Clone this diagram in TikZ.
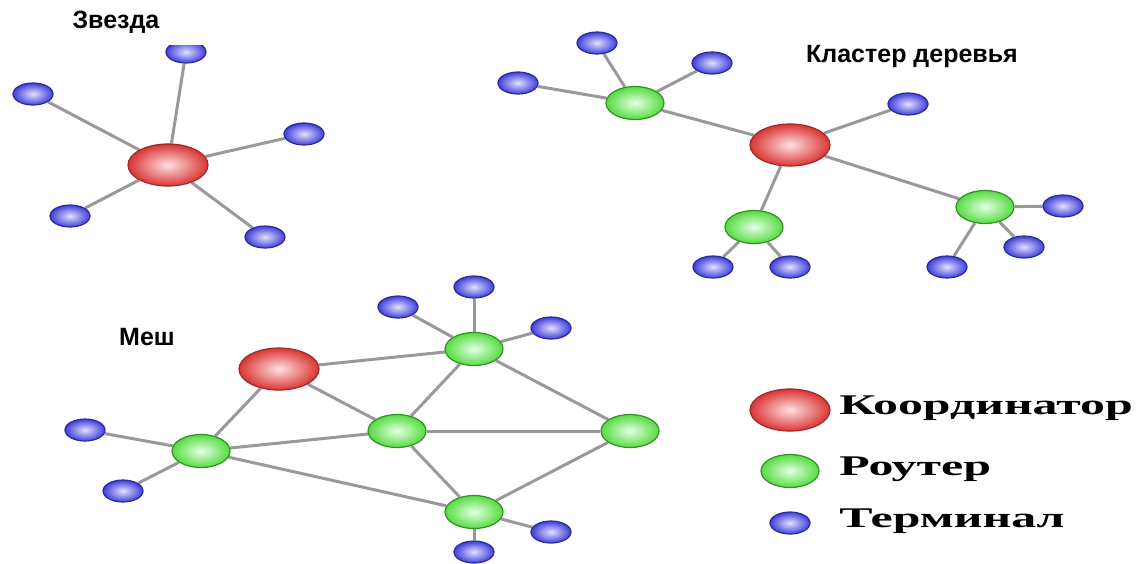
\documentclass[tikz,border=0pt]{standalone}
\usepackage{fontspec}
\usetikzlibrary{shapes.geometric,backgrounds}
\newfontfamily\labelfont{Liberation Sans}
\newfontfamily\legendfont{Liberation Serif}

\definecolor{redball}{HTML}{D93535}
\definecolor{greenball}{HTML}{55DC40}
\definecolor{blueball}{HTML}{3F3FDA}

\begin{document}
\begin{tikzpicture}[x=1pt,y=-1pt,
		link/.style = {draw=gray!80, line width=3pt}]
	\tikzset{ball/.style={ellipse, inner sep=0pt, line width=1.2pt},
		coord/.style={ball, minimum width=80pt, minimum height=42pt, draw=redball!75!black, inner color=red!12!white, outer color=redball},
		router/.style={ball, minimum width=58pt, minimum height=33pt, draw=greenball!65!black, inner color=green!10!white, outer color=greenball},
		term/.style={ball, minimum width=40pt, minimum height=22pt, draw=blueball!70!black, inner color=blue!12!white, outer color=blueball},
		title/.style={font=\labelfont\bfseries\fontsize{25}{30}\selectfont},
		legend/.style={anchor=west, inner sep=0pt, xscale=1.75, font=\legendfont\bfseries\fontsize{28.5}{32}\selectfont}}

	\useasboundingbox (0,0) rectangle (1142,563);

	% star
	\node[title] (startitle) at (116,22) {Звезда};
	\begin{scope}
		\clip (0,45) rectangle (440,290);
		\node[coord] (s) at (168,165) {};
		\node[term] (s1) at (186,52) {};
		\node[term] (s2) at (33,94) {};
		\node[term] (s3) at (304,134) {};
		\node[term] (s4) at (70,216) {};
		\node[term] (s5) at (265,237) {};
		\begin{scope}[on background layer]
			\foreach \t in {1,...,5}
				\draw[link] (s) -- (s\t);
		\end{scope}
	\end{scope}

	% cluster tree
	\node[title] (treetitle) at (912,56) {Кластер деревья};
	\node[coord] (c) at (790,145) {};
	\node[router] (r1) at (635,103) {};
	\node[router] (r2) at (754,227) {};
	\node[router] (r3) at (985,207) {};
	\node[term] (c0) at (908,104) {};
	\node[term] (r1a) at (597,43) {};
	\node[term] (r1b) at (518,83) {};
	\node[term] (r1c) at (712,63) {};
	\node[term] (r2a) at (713,267) {};
	\node[term] (r2b) at (790,267) {};
	\node[term] (r3a) at (1063,206) {};
	\node[term] (r3b) at (1024,247) {};
	\node[term] (r3c) at (947,267) {};
	\begin{scope}[on background layer]
		\foreach \n in {r1,r2,r3,c0}
			\draw[link] (c) -- (\n);
		\foreach \t in {r1a,r1b,r1c}
			\draw[link] (r1) -- (\t);
		\foreach \t in {r2a,r2b}
			\draw[link] (r2) -- (\t);
		\foreach \t in {r3a,r3b,r3c}
			\draw[link] (r3) -- (\t);
	\end{scope}

	% mesh
	\node[title] (meshtitle) at (147,337) {Меш};
	\node[coord] (m) at (279,369) {};
	\node[router] (ma) at (201,451) {};
	\node[router] (mb) at (397,431) {};
	\node[router] (mc) at (474,349) {};
	\node[router] (md) at (630,431) {};
	\node[router] (me) at (474,512) {};
	\node[term] (ma1) at (85,430) {};
	\node[term] (ma2) at (123,491) {};
	\node[term] (mc1) at (398,307) {};
	\node[term] (mc2) at (474,287) {};
	\node[term] (mc3) at (551,328) {};
	\node[term] (me1) at (551,532) {};
	\node[term] (me2) at (474,552) {};
	\begin{scope}[on background layer]
		\foreach \a/\b in {m/ma,m/mc,m/mb,ma/mb,ma/me,mb/mc,mb/md,mb/me,mc/md,me/md,
				ma/ma1,ma/ma2,mc/mc1,mc/mc2,mc/mc3,me/me1,me/me2}
			\draw[link] (\a) -- (\b);
	\end{scope}

	% legend
	\node[coord] (keycoord) at (790,410) {};
	\node[router] (keyrouter) at (790,471) {};
	\node[term] (keyterm) at (790,523) {};
	\node[legend] (keycoordtext) at (839,408) {Координатор};
	\node[legend] (keyroutertext) at (839,469) {Роутер};
	\node[legend] (keytermtext) at (839,521) {Терминал};
\end{tikzpicture}
\end{document}
